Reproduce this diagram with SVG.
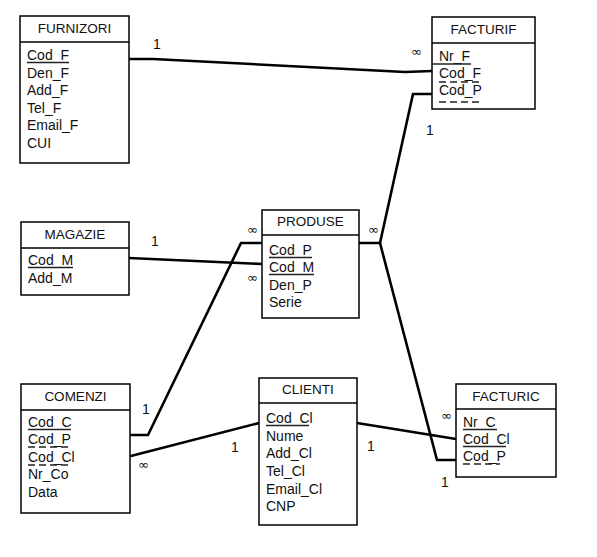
<svg xmlns="http://www.w3.org/2000/svg" width="597" height="557" viewBox="0 0 597 557">
<style>
.box{fill:#fff;stroke:#000;stroke-width:1.5}
.div{stroke:#000;stroke-width:1.5}
.t{font-family:"Liberation Sans",Arial,sans-serif;font-size:14px;fill:#111}
.ttl{font-family:"Liberation Sans",Arial,sans-serif;font-size:13.5px;fill:#111;text-anchor:middle}
.ul{stroke:#222;stroke-width:1.3}
.dul{stroke:#222;stroke-width:1.3;stroke-dasharray:7 4}
.c{fill:none;stroke:#000;stroke-width:2.6;stroke-linejoin:miter}
.lb{font-family:"Liberation Sans",Arial,sans-serif;font-size:14px;fill:#111}
.inf{font-family:"DejaVu Sans",sans-serif;font-size:13px;fill:#111}
</style>
<rect width="597" height="557" fill="#fff"/>
<g id="connectors">
<polyline class="c" points="129,59 153,59 405,72 432,71"/>
<polyline class="c" points="432,94 413,94 380,243 359,243"/>
<polyline class="c" points="380,243 437,460 456,460"/>
<polyline class="c" points="129,258 262,264"/>
<polyline class="c" points="130,435 148,435 241,243 262,243"/>
<polyline class="c" points="127,457 259,423"/>
<polyline class="c" points="357,423 456,439"/>
<text class="lb" x="153" y="49">1</text>
<text class="inf" x="411" y="56">∞</text>
<text class="lb" x="426" y="135">1</text>
<text class="inf" x="368" y="234">∞</text>
<text class="lb" x="441" y="487">1</text>
<text class="lb" x="151" y="246">1</text>
<text class="inf" x="247" y="234">∞</text>
<text class="inf" x="247" y="282">∞</text>
<text class="lb" x="142" y="414">1</text>
<text class="inf" x="138" y="469">∞</text>
<text class="lb" x="231" y="452">1</text>
<text class="lb" x="367" y="451">1</text>
<text class="inf" x="441" y="420">∞</text>
</g>
<g id="furnizori">
<rect class="box" x="20" y="16" width="109" height="147"/>
<line class="div" x1="20" y1="42" x2="129" y2="42"/>
<text class="ttl" x="74.5" y="33">FURNIZORI</text>
<text class="t" x="27" y="60">Cod_F</text>
<line class="ul" x1="27" y1="62.5" x2="69" y2="62.5"/>
<text class="t" x="27" y="77.6">Den_F</text>
<text class="t" x="27" y="95.2">Add_F</text>
<text class="t" x="27" y="112.8">Tel_F</text>
<text class="t" x="27" y="130.4">Email_F</text>
<text class="t" x="27" y="148">CUI</text>
</g>
<g id="facturif">
<rect class="box" x="432" y="17" width="103" height="92"/>
<line class="div" x1="432" y1="43" x2="535" y2="43"/>
<text class="ttl" x="483.5" y="34">FACTURIF</text>
<text class="t" x="439" y="61">Nr_F</text>
<line class="ul" x1="432" y1="64" x2="471" y2="64"/>
<text class="t" x="439" y="78">Cod_F</text>
<line class="dul" x1="439" y1="82" x2="481" y2="82"/>
<text class="t" x="439" y="95">Cod_P</text>
<line class="dul" x1="439" y1="102" x2="481" y2="102"/>
</g>
<g id="magazie">
<rect class="box" x="21" y="222" width="108" height="73"/>
<line class="div" x1="21" y1="248" x2="129" y2="248"/>
<text class="ttl" x="75" y="239">MAGAZIE</text>
<text class="t" x="28" y="265">Cod_M</text>
<line class="ul" x1="28" y1="267.5" x2="73" y2="267.5"/>
<text class="t" x="28" y="283">Add_M</text>
</g>
<g id="produse">
<rect class="box" x="262" y="210" width="97" height="108"/>
<line class="div" x1="262" y1="235" x2="359" y2="235"/>
<text class="ttl" x="310.5" y="226">PRODUSE</text>
<text class="t" x="269" y="255">Cod_P</text>
<line class="ul" x1="269" y1="257.5" x2="312" y2="257.5"/>
<text class="t" x="269" y="272">Cod_M</text>
<line class="ul" x1="269" y1="274.5" x2="314" y2="274.5"/>
<text class="t" x="269" y="290">Den_P</text>
<text class="t" x="269" y="307">Serie</text>
</g>
<g id="comenzi">
<rect class="box" x="21" y="384" width="109" height="129"/>
<line class="div" x1="21" y1="410" x2="130" y2="410"/>
<text class="ttl" x="75.5" y="401">COMENZI</text>
<text class="t" x="28" y="427">Cod_C</text>
<line class="ul" x1="28" y1="429.5" x2="71" y2="429.5"/>
<text class="t" x="28" y="444">Cod_P</text>
<line class="dul" x1="28" y1="447" x2="71" y2="447"/>
<text class="t" x="28" y="462">Cod_Cl</text>
<line class="dul" x1="28" y1="465" x2="72" y2="465"/>
<text class="t" x="28" y="479">Nr_Co</text>
<text class="t" x="28" y="497">Data</text>
</g>
<g id="clienti">
<rect class="box" x="259" y="378" width="98" height="147"/>
<line class="div" x1="259" y1="403" x2="357" y2="403"/>
<text class="ttl" x="308" y="394">CLIENTI</text>
<text class="t" x="266" y="423">Cod_Cl</text>
<line class="ul" x1="266" y1="425.5" x2="309" y2="425.5"/>
<text class="t" x="266" y="441">Nume</text>
<text class="t" x="266" y="458">Add_Cl</text>
<text class="t" x="266" y="476">Tel_Cl</text>
<text class="t" x="266" y="494">Email_Cl</text>
<text class="t" x="266" y="511">CNP</text>
</g>
<g id="facturic">
<rect class="box" x="456" y="384" width="100" height="93"/>
<line class="div" x1="456" y1="409" x2="556" y2="409"/>
<text class="ttl" x="506" y="401">FACTURIC</text>
<text class="t" x="463" y="427">Nr_C</text>
<line class="ul" x1="463" y1="429.5" x2="497" y2="429.5"/>
<text class="t" x="463" y="444">Cod_Cl</text>
<line class="ul" x1="463" y1="446.5" x2="506" y2="446.5"/>
<text class="t" x="463" y="461">Cod_P</text>
<line class="dul" x1="463" y1="464" x2="500" y2="464"/>
</g>
</svg>
